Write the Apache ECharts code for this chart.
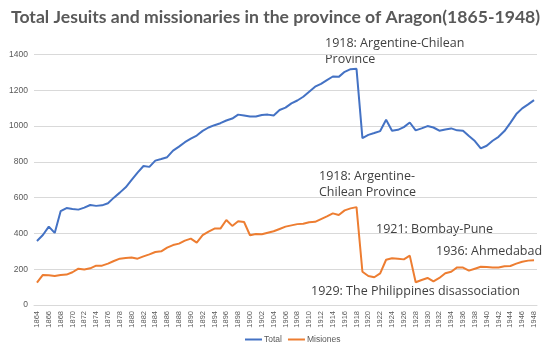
<!DOCTYPE html>
<html><head><meta charset="utf-8">
<script src="https://cdn.jsdelivr.net/npm/echarts@6/dist/echarts.min.js"></script>
<style>html,body{margin:0;padding:0;background:#fff}#c{width:550px;height:354px}</style>
</head><body><div id="c"></div>
<script>
var years = [];
for (var y = 1864; y <= 1948; y++) years.push(String(y));
var total = [358,391,438,403,524,542,537,533,544,559,554,557,569,600,628,658,699,740,777,772,
807,816,826,863,885,910,930,947,973,992,1005,1016,1031,1042,1064,1059,1053,1053,1062,1064,
1059,1090,1103,1127,1143,1164,1192,1220,1236,1257,1277,1275,1303,1318,1320,933,951,961,972,1035,
974,979,994,1020,976,987,1000,992,974,981,987,976,974,944,916,875,890,918,940,972,
1018,1067,1099,1121,1145];
var misiones = [125,168,166,162,168,170,183,203,199,205,220,220,231,246,259,263,265,259,272,283,
296,300,321,335,343,360,371,349,390,410,427,427,475,442,468,464,390,397,395,404,
412,425,438,445,452,454,462,465,480,495,512,503,529,540,547,186,162,155,177,253,
261,259,255,276,127,140,151,132,151,177,186,210,209,192,203,214,212,210,210,216,
218,231,242,248,250];
var seriesNames = ['Total','Misiones'];
var titleText = 'Total Jesuits and missionaries in the province of Aragon(1865-1948)';
var notes = [
  ['1918: Argentine-Chilean', 'Province'],
  ['1918: Argentine-', 'Chilean Province'],
  ['1921: Bombay-Pune'],
  ['1936: Ahmedabad'],
  ['1929: The Philippines disassociation']
];

var chart = echarts.init(document.getElementById('c'));
var noteFont = {fontFamily:'Open Sans', fontSize:12.5, fill:'#404040', lineHeight:16.5};
chart.setOption({
  animation:false,
  color:['#4472C4','#ED7D31'],
  title:{text:titleText,left:6,top:3,textStyle:{fontFamily:'Lato',fontWeight:'bold',fontSize:17.6,color:'#595959'}},
  grid:{left:34,right:13,top:54.5,bottom:49},
  legend:{data:seriesNames,bottom:5,left:240,icon:'rect',itemWidth:17,itemHeight:2,itemGap:6,
    textStyle:{fontSize:8.5,color:'#595959',fontFamily:'Liberation Sans',padding:[0,0,0,-3]}},
  xAxis:{type:'category',data:years,boundaryGap:true,
    axisLine:{lineStyle:{color:'#D9D9D9'}},axisTick:{show:false},
    axisLabel:{rotate:90,interval:1,fontSize:7.5,color:'#595959',fontFamily:'Liberation Sans',margin:6}},
  yAxis:{type:'value',min:0,max:1400,interval:200,
    axisLine:{show:false},axisTick:{show:false},
    splitLine:{lineStyle:{color:'#D9D9D9'}},
    axisLabel:{fontSize:8.5,color:'#595959',fontFamily:'Liberation Sans',margin:6,formatter:function(v){return String(v);}}},
  series:[
    {name:seriesNames[0],type:'line',data:total,symbol:'none',lineStyle:{width:2}},
    {name:seriesNames[1],type:'line',data:misiones,symbol:'none',lineStyle:{width:2}}
  ],
  graphic:[
    {type:'text',left:325,top:35,style:Object.assign({text:notes[0].join('\n')},noteFont)},
    {type:'text',left:319,top:168,style:Object.assign({text:notes[1].join('\n')},noteFont)},
    {type:'text',left:376,top:221,style:Object.assign({text:notes[2][0]},noteFont)},
    {type:'text',left:436,top:243,style:Object.assign({text:notes[3][0]},noteFont)},
    {type:'text',left:311,top:283,style:Object.assign({text:notes[4][0]},noteFont)}
  ]
});
</script></body></html>
